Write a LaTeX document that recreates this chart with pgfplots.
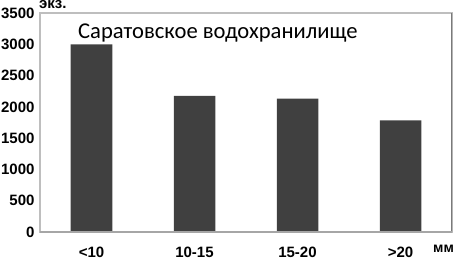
\documentclass[border=0pt]{standalone}
\usepackage{fontspec}
\setmainfont{Liberation Sans}
\newfontfamily\titlefont{Carlito}
\usepackage{pgfplots}
\pgfplotsset{compat=1.18}
\definecolor{barc}{HTML}{404040}
\definecolor{framec}{HTML}{BEBEBE}
\definecolor{framer}{HTML}{7A7A7A}
\begin{document}
\begin{tikzpicture}[x=1pt,y=1pt]
\path[use as bounding box] (0,0) rectangle (455,260);
\begin{axis}[
  at={(40pt,28pt)}, anchor=south west,
  scale only axis, width=412pt, height=219pt,
  xmin=-0.5, xmax=3.5, ymin=0, ymax=3500,
  ytick={0,500,...,3500},
  xtick={0,1,2,3},
  xticklabels={{<10},{10-15},{15-20},{>20}},
  axis line style={framec, line width=1.2pt},
  major tick length=0pt,
  /pgf/number format/assume math mode=true,
  /pgf/number format/1000 sep={},
  tick label style={font=\fontsize{15}{15}\selectfont\bfseries},
  yticklabel style={anchor=east, xshift=-2pt},
  xticklabel style={anchor=base, yshift=-25.5pt},
  ybar, bar width=41.5pt,
]
\addplot[fill=barc, draw=none] coordinates {(0,3000) (1,2175) (2,2130) (3,1785)};
\draw[framer, line width=1.2pt] (rel axis cs:1,0) -- (rel axis cs:1,1);
\draw[gray!70, line width=1.2pt] (rel axis cs:0,0) -- (rel axis cs:1,0);
\end{axis}
\node[anchor=base west, inner sep=0pt, font=\fontsize{15}{15}\selectfont\bfseries] at (39,251) {экз.};
\node[anchor=base west, inner sep=0pt, font=\fontsize{14}{14}\selectfont\bfseries] at (433,7.5) {мм};
\node[anchor=base west, inner sep=0pt, font=\titlefont\fontsize{22.6}{22.6}\selectfont] at (78,221) {Саратовское водохранилище};
\end{tikzpicture}
\end{document}
